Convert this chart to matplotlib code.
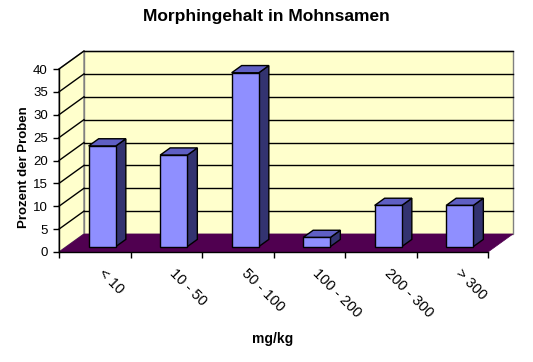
import matplotlib
matplotlib.use("Agg")
import matplotlib.pyplot as plt
from matplotlib.patches import Polygon, Rectangle
from matplotlib.transforms import offset_copy

plt.rcParams['font.family'] = ['Liberation Sans', 'DejaVu Sans']

# data
categories = ['< 10', '10 - 50', '50 - 100', '100 - 200', '200 - 300', '> 300']
values = [22, 20, 38, 2, 9, 9]
yticks = [0, 5, 10, 15, 20, 25, 30, 35, 40]

# colours
WALL = '#FFFFCC'
FLOOR = '#500050'
BAR_FRONT = '#8F8FFF'
BAR_SIDE = '#333370'
BAR_TOP = '#5F5FC4'

fig = plt.figure(figsize=(5.33, 3.62), dpi=100)
# front plane of the 3d box
ax = fig.add_axes([59/533, 110/362, 429/533, 183/362])
ax.set_xlim(0, len(categories))
ax.set_ylim(0, 40)

# oblique depth offset in data units
DX = 25 / (429 / len(categories))
DY = 18 / (183 / 40)
n = len(categories)

# walls
ax.add_patch(Rectangle((DX, DY), n, 40, facecolor=WALL, edgecolor='#808080', lw=1, clip_on=False, zorder=1))
ax.add_patch(Polygon([(0, 0), (DX, DY), (DX, 40 + DY), (0, 40)], closed=True,
                     facecolor=WALL, edgecolor='#808080', lw=1, clip_on=False, zorder=1))
# gridlines on back and side wall
for v in yticks[1:]:
    ax.plot([DX, n + DX], [v + DY, v + DY], color='black', lw=1, clip_on=False, zorder=2)
    ax.plot([0, DX], [v, v + DY], color='black', lw=1, clip_on=False, zorder=2)
# floor
ax.add_patch(Polygon([(0, 0), (n, 0), (n + DX, DY), (DX, DY)], closed=True,
                     facecolor=FLOOR, edgecolor=FLOOR, lw=0.5, clip_on=False, zorder=3))

# bars
w = 0.38
d0 = 0.3   # where the bar sits in depth
bd = 0.4   # bar depth
for i, v in enumerate(values):
    x0 = i + 0.5 - w / 2 + d0 * DX
    y0 = d0 * DY
    ox, oy = bd * DX, bd * DY
    side = [(x0 + w, y0), (x0 + w + ox, y0 + oy), (x0 + w + ox, y0 + v + oy), (x0 + w, y0 + v)]
    top = [(x0, y0 + v), (x0 + w, y0 + v), (x0 + w + ox, y0 + v + oy), (x0 + ox, y0 + v + oy)]
    ax.add_patch(Polygon(side, closed=True, facecolor=BAR_SIDE, edgecolor='black', lw=1, clip_on=False, zorder=4))
    ax.add_patch(Polygon(top, closed=True, facecolor=BAR_TOP, edgecolor='black', lw=1, clip_on=False, zorder=4))
    ax.add_patch(Rectangle((x0, y0), w, v, facecolor=BAR_FRONT, edgecolor='black', lw=1, clip_on=False, zorder=5))

# axes
ax.patch.set_visible(False)
for s in ['top', 'right']:
    ax.spines[s].set_visible(False)
for s in ['left', 'bottom']:
    ax.spines[s].set_color('black')
    ax.spines[s].set_linewidth(1)
    ax.spines[s].set_zorder(6)
ax.set_yticks(yticks)
ax.set_yticklabels([str(t) for t in yticks], fontsize=9.5)
ax.set_xticks(range(n + 1))
ax.set_xticklabels([])
ax.tick_params(direction='out', length=4, width=1, color='black', pad=4)

tr = offset_copy(ax.transData, fig=fig, x=6, y=-19, units='dots')
for i, c in enumerate(categories):
    ax.text(i + 0.5, 0, c, transform=tr, rotation=-45, rotation_mode='anchor',
            ha='left', va='center', fontsize=10.5)

fig.text(266/533, 1 - 17/362, 'Morphingehalt in Mohnsamen', ha='center', va='center',
         fontsize=12.5, fontweight='bold')
fig.text(24/533, 1 - 167/362, 'Prozent der Proben', ha='center', va='center',
         rotation=90, fontsize=9.5, fontweight='bold')
fig.text(273/533, 1 - 339/362, 'mg/kg', ha='center', va='center', fontsize=10, fontweight='bold')

fig.savefig('out.png', dpi=100)
